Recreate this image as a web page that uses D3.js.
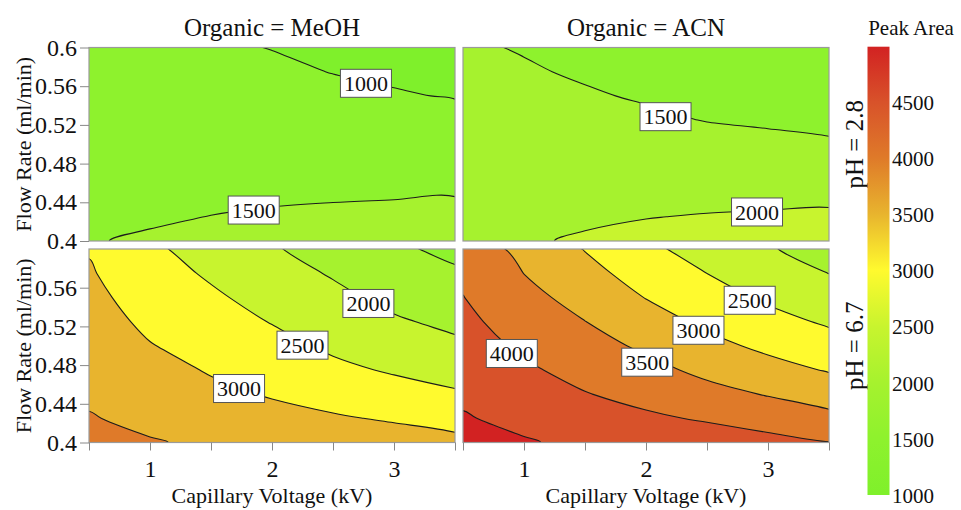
<!DOCTYPE html>
<html>
<head>
<meta charset="utf-8">
<script src="https://cdn.jsdelivr.net/npm/d3@7"></script>
<style>
  body { margin: 0; background: #fff; }
  text { font-family: "Liberation Serif", "Times New Roman", serif; fill: #111; }
</style>
</head>
<body>
<svg id="chart" width="961" height="510"></svg>
<script>
// grid of the response surface: voltage (kV) columns, flow rate (ml/min) rows
const voltages = [0.5, 1, 1.5, 2, 2.5, 3, 3.5]
const flowRates = [0.4, 0.425, 0.45, 0.475, 0.5, 0.525, 0.55, 0.575, 0.6]

// peak area, one inner array per voltage, flow rate 0.4 -> 0.6
const meohPh28 = [
  [1480, 1430, 1385, 1345, 1305, 1270, 1240, 1210, 1180],
  [1540, 1460, 1395, 1340, 1290, 1245, 1200, 1160, 1120],
  [1590, 1505, 1425, 1355, 1290, 1230, 1170, 1110, 1055],
  [1630, 1535, 1450, 1370, 1295, 1220, 1145, 1070, 990],
  [1670, 1565, 1455, 1365, 1275, 1185, 1095, 990, 910],
  [1700, 1585, 1465, 1355, 1245, 1135, 1030, 940, 860],
  [1730, 1610, 1478, 1365, 1245, 1125, 980, 890, 820]
]
const acnPh28 = [
  [1900, 1840, 1785, 1735, 1690, 1650, 1610, 1575, 1540],
  [1960, 1885, 1815, 1750, 1690, 1635, 1580, 1530, 1480],
  [2040, 1945, 1855, 1770, 1690, 1610, 1530, 1465, 1405],
  [2100, 1990, 1880, 1770, 1660, 1555, 1470, 1410, 1370],
  [2150, 2020, 1885, 1750, 1615, 1490, 1430, 1390, 1360],
  [2180, 2040, 1890, 1740, 1590, 1450, 1405, 1372, 1350],
  [2210, 2065, 1895, 1715, 1530, 1440, 1395, 1360, 1335]
]
const meohPh67 = [
  [3620, 3525, 3440, 3360, 3285, 3205, 3125, 3045, 2970],
  [3530, 3400, 3275, 3155, 3020, 2905, 2795, 2690, 2580],
  [3430, 3260, 3100, 2965, 2830, 2700, 2570, 2440, 2315],
  [3335, 3140, 2965, 2805, 2640, 2480, 2335, 2185, 2040],
  [3300, 3050, 2825, 2605, 2420, 2265, 2110, 1960, 1820],
  [3220, 2950, 2695, 2450, 2255, 2055, 1880, 1720, 1570],
  [3120, 2835, 2555, 2320, 2090, 1895, 1725, 1555, 1400]
]
const acnPh67 = [
  [4650, 4535, 4425, 4320, 4215, 4110, 4010, 3905, 3800],
  [4540, 4380, 4225, 4070, 3920, 3780, 3640, 3495, 3365],
  [4395, 4195, 4020, 3850, 3675, 3505, 3330, 3155, 2980],
  [4300, 4075, 3855, 3640, 3420, 3205, 2985, 2790, 2600],
  [4255, 3950, 3655, 3385, 3135, 2905, 2700, 2498, 2310],
  [4140, 3800, 3470, 3170, 2895, 2655, 2425, 2225, 2040],
  [4010, 3630, 3285, 2965, 2695, 2435, 2215, 1995, 1800]
]

// contour labels: [level, voltage, flow rate]
const meohPh28Labels = [[1000, 2.77, 0.563], [1500, 1.85, 0.432]]
const acnPh28Labels = [[1500, 2.16, 0.5285], [2000, 2.91, 0.430]]
const meohPh67Labels = [[2000, 2.79, 0.5437], [2500, 2.25, 0.5006], [3000, 1.73, 0.4558]]
const acnPh67Labels = [[2500, 2.85, 0.547], [3000, 2.43, 0.516], [3500, 2.01, 0.483], [4000, 0.9, 0.492]]

const levels = [1000, 1500, 2000, 2500, 3000, 3500, 4000, 4500]
const organics = ["MeOH", "ACN"]
const phValues = ["2.8", "6.7"]
const colorbarTicks = [1000, 1500, 2000, 2500, 3000, 3500, 4000, 4500]
const colorbarRange = [1000, 4990]
const colorStops = [1000, 1500, 2000, 2500, 3000, 3500, 4000, 4500, 4990]
const colorHex = ["#7ff02b", "#8ef22d", "#a6f22e", "#c8f42e", "#fffa2e", "#e8b42e", "#df7a29", "#d8522a", "#d22222"]

const yTicksTop = [0.4, 0.44, 0.48, 0.52, 0.56, 0.6]
const yTicksBottom = [0.4, 0.44, 0.48, 0.52, 0.56]
const xTicks = [0.5, 1, 1.5, 2, 2.5, 3, 3.5]

const svg = d3.select("#chart")
const colX = [89, 463]
const rowY = [47.5, 249]
const panelW = 366
const panelH = 193.5

const color = d3.scaleLinear().domain(colorStops).range(colorHex)

const panels = [
  { grid: meohPh28, labels: meohPh28Labels, col: 0, row: 0 },
  { grid: acnPh28, labels: acnPh28Labels, col: 1, row: 0 },
  { grid: meohPh67, labels: meohPh67Labels, col: 0, row: 1 },
  { grid: acnPh67, labels: acnPh67Labels, col: 1, row: 1 }
]

const nx = voltages.length
const ny = flowRates.length
const dv = voltages[1] - voltages[0]
const df = flowRates[1] - flowRates[0]

panels.forEach((p, k) => {
  const x = d3.scaleLinear()
    .domain([voltages[0], voltages[nx - 1]])
    .range([colX[p.col], colX[p.col] + panelW])
  const y = d3.scaleLinear()
    .domain([flowRates[0], flowRates[ny - 1]])
    .range([rowY[p.row] + panelH, rowY[p.row]])

  // d3.contours wants row-major values
  const values = []
  for (let j = 0; j < ny; j++)
    for (let i = 0; i < nx; i++) values.push(p.grid[i][j])

  const contours = d3.contours().size([nx, ny]).thresholds(levels)(values)

  const ringLine = d3.line()
    .x(d => x(voltages[0] + (d[0] - 0.5) * dv))
    .y(d => y(flowRates[0] + (d[1] - 0.5) * df))
    .curve(d3.curveCatmullRomClosed.alpha(0.5))

  const pathOf = c => c.coordinates
    .map(poly => poly.map(ring => ringLine(ring.slice(0, -1))).join(""))
    .join("")

  svg.append("clipPath").attr("id", "clip" + k)
    .append("rect")
      .attr("x", x.range()[0]).attr("y", y.range()[1])
      .attr("width", panelW).attr("height", panelH)

  const g = svg.append("g").attr("clip-path", `url(#clip${k})`)

  g.append("rect")
    .attr("x", x.range()[0]).attr("y", y.range()[1])
    .attr("width", panelW).attr("height", panelH)
    .attr("fill", color(levels[0]))

  g.selectAll("path.band")
    .data(contours)
    .join("path")
      .attr("class", "band")
      .attr("d", pathOf)
      .attr("fill-rule", "evenodd")
      .attr("fill", (c, i) => color(i + 1 < levels.length ? levels[i + 1] : colorbarRange[1]))

  g.selectAll("path.line")
    .data(contours)
    .join("path")
      .attr("class", "line")
      .attr("d", pathOf)
      .attr("fill", "none")
      .attr("stroke", "#1c1c1c")
      .attr("stroke-width", 1.1)

  // contour labels
  const lab = g.selectAll("g.lab")
    .data(p.labels)
    .join("g")
      .attr("class", "lab")
      .attr("transform", d => `translate(${x(d[1])},${y(d[2])})`)
  const rects = lab.append("rect")
    .attr("fill", "#fff")
    .attr("stroke", "#555")
    .attr("stroke-width", 1)
  const texts = lab.append("text")
    .attr("text-anchor", "middle")
    .attr("dy", "0.35em")
    .style("font-size", "22px")
    .text(d => d[0])
  texts.each(function(d, i) {
    const w = this.getComputedTextLength() + 7
    d3.select(rects.nodes()[i])
      .attr("x", -w / 2).attr("y", -14)
      .attr("width", w).attr("height", 28)
  })

  // panel border
  svg.append("rect")
    .attr("x", x.range()[0]).attr("y", y.range()[1])
    .attr("width", panelW).attr("height", panelH)
    .attr("fill", "none")
    .attr("stroke", "#9a9a9a")
    .attr("stroke-width", 1.2)

  if (p.col === 0) {
    const ax = svg.append("g")
      .attr("transform", `translate(${x.range()[0]},0)`)
      .call(d3.axisLeft(y)
        .tickValues(p.row === 0 ? yTicksTop : yTicksBottom)
        .tickSize(9).tickPadding(3)
        .tickFormat(d3.format(".2~f")))
    ax.select(".domain").remove()
    ax.selectAll("line").attr("stroke", "#888")
    ax.selectAll("text").style("font-size", "24px").attr("fill", "#111")

    svg.append("text")
      .attr("transform", `translate(31,${rowY[p.row] + panelH / 2}) rotate(-90)`)
      .attr("text-anchor", "middle")
      .style("font-size", "22px")
      .text("Flow Rate (ml/min)")
  }

  if (p.row === 1) {
    const ax = svg.append("g")
      .attr("transform", `translate(0,${y.range()[0]})`)
      .call(d3.axisBottom(x)
        .tickValues(xTicks)
        .tickSize(8).tickPadding(9)
        .tickFormat(d => Number.isInteger(d) ? d : ""))
    ax.select(".domain").remove()
    ax.selectAll("line").attr("stroke", "#888")
    ax.selectAll("text").style("font-size", "24px").attr("fill", "#111")

    svg.append("text")
      .attr("x", colX[p.col] + panelW / 2)
      .attr("y", 503)
      .attr("text-anchor", "middle")
      .style("font-size", "22px")
      .text("Capillary Voltage (kV)")
  }

  if (p.row === 0) {
    svg.append("text")
      .attr("x", colX[p.col] + panelW / 2)
      .attr("y", 36)
      .attr("text-anchor", "middle")
      .style("font-size", "25px")
      .text("Organic = " + organics[p.col])
  }

  if (p.col === 1) {
    svg.append("text")
      .attr("transform", `translate(863,${rowY[p.row] + panelH / 2}) rotate(-90)`)
      .attr("text-anchor", "middle")
      .style("font-size", "25px")
      .text("pH = " + phValues[p.row])
  }
})

// colour bar
const cy = d3.scaleLinear().domain(colorbarRange).range([495, 46.7])
const grad = svg.append("defs").append("linearGradient")
  .attr("id", "cbar")
  .attr("x1", 0).attr("y1", 1).attr("x2", 0).attr("y2", 0)
grad.selectAll("stop")
  .data(colorStops)
  .join("stop")
    .attr("offset", d => (d - colorbarRange[0]) / (colorbarRange[1] - colorbarRange[0]))
    .attr("stop-color", d => color(d))

svg.append("rect")
  .attr("x", 867.5).attr("y", cy(colorbarRange[1]))
  .attr("width", 22).attr("height", cy(colorbarRange[0]) - cy(colorbarRange[1]))
  .attr("fill", "url(#cbar)")

svg.append("g")
  .selectAll("text")
  .data(colorbarTicks)
  .join("text")
    .attr("x", 892)
    .attr("y", d => cy(d))
    .attr("dy", "0.38em")
    .style("font-size", "21px")
    .text(d => d)

svg.append("text")
  .attr("x", 911).attr("y", 35)
  .attr("text-anchor", "middle")
  .style("font-size", "21px")
  .text("Peak Area")
</script>
</body>
</html>
